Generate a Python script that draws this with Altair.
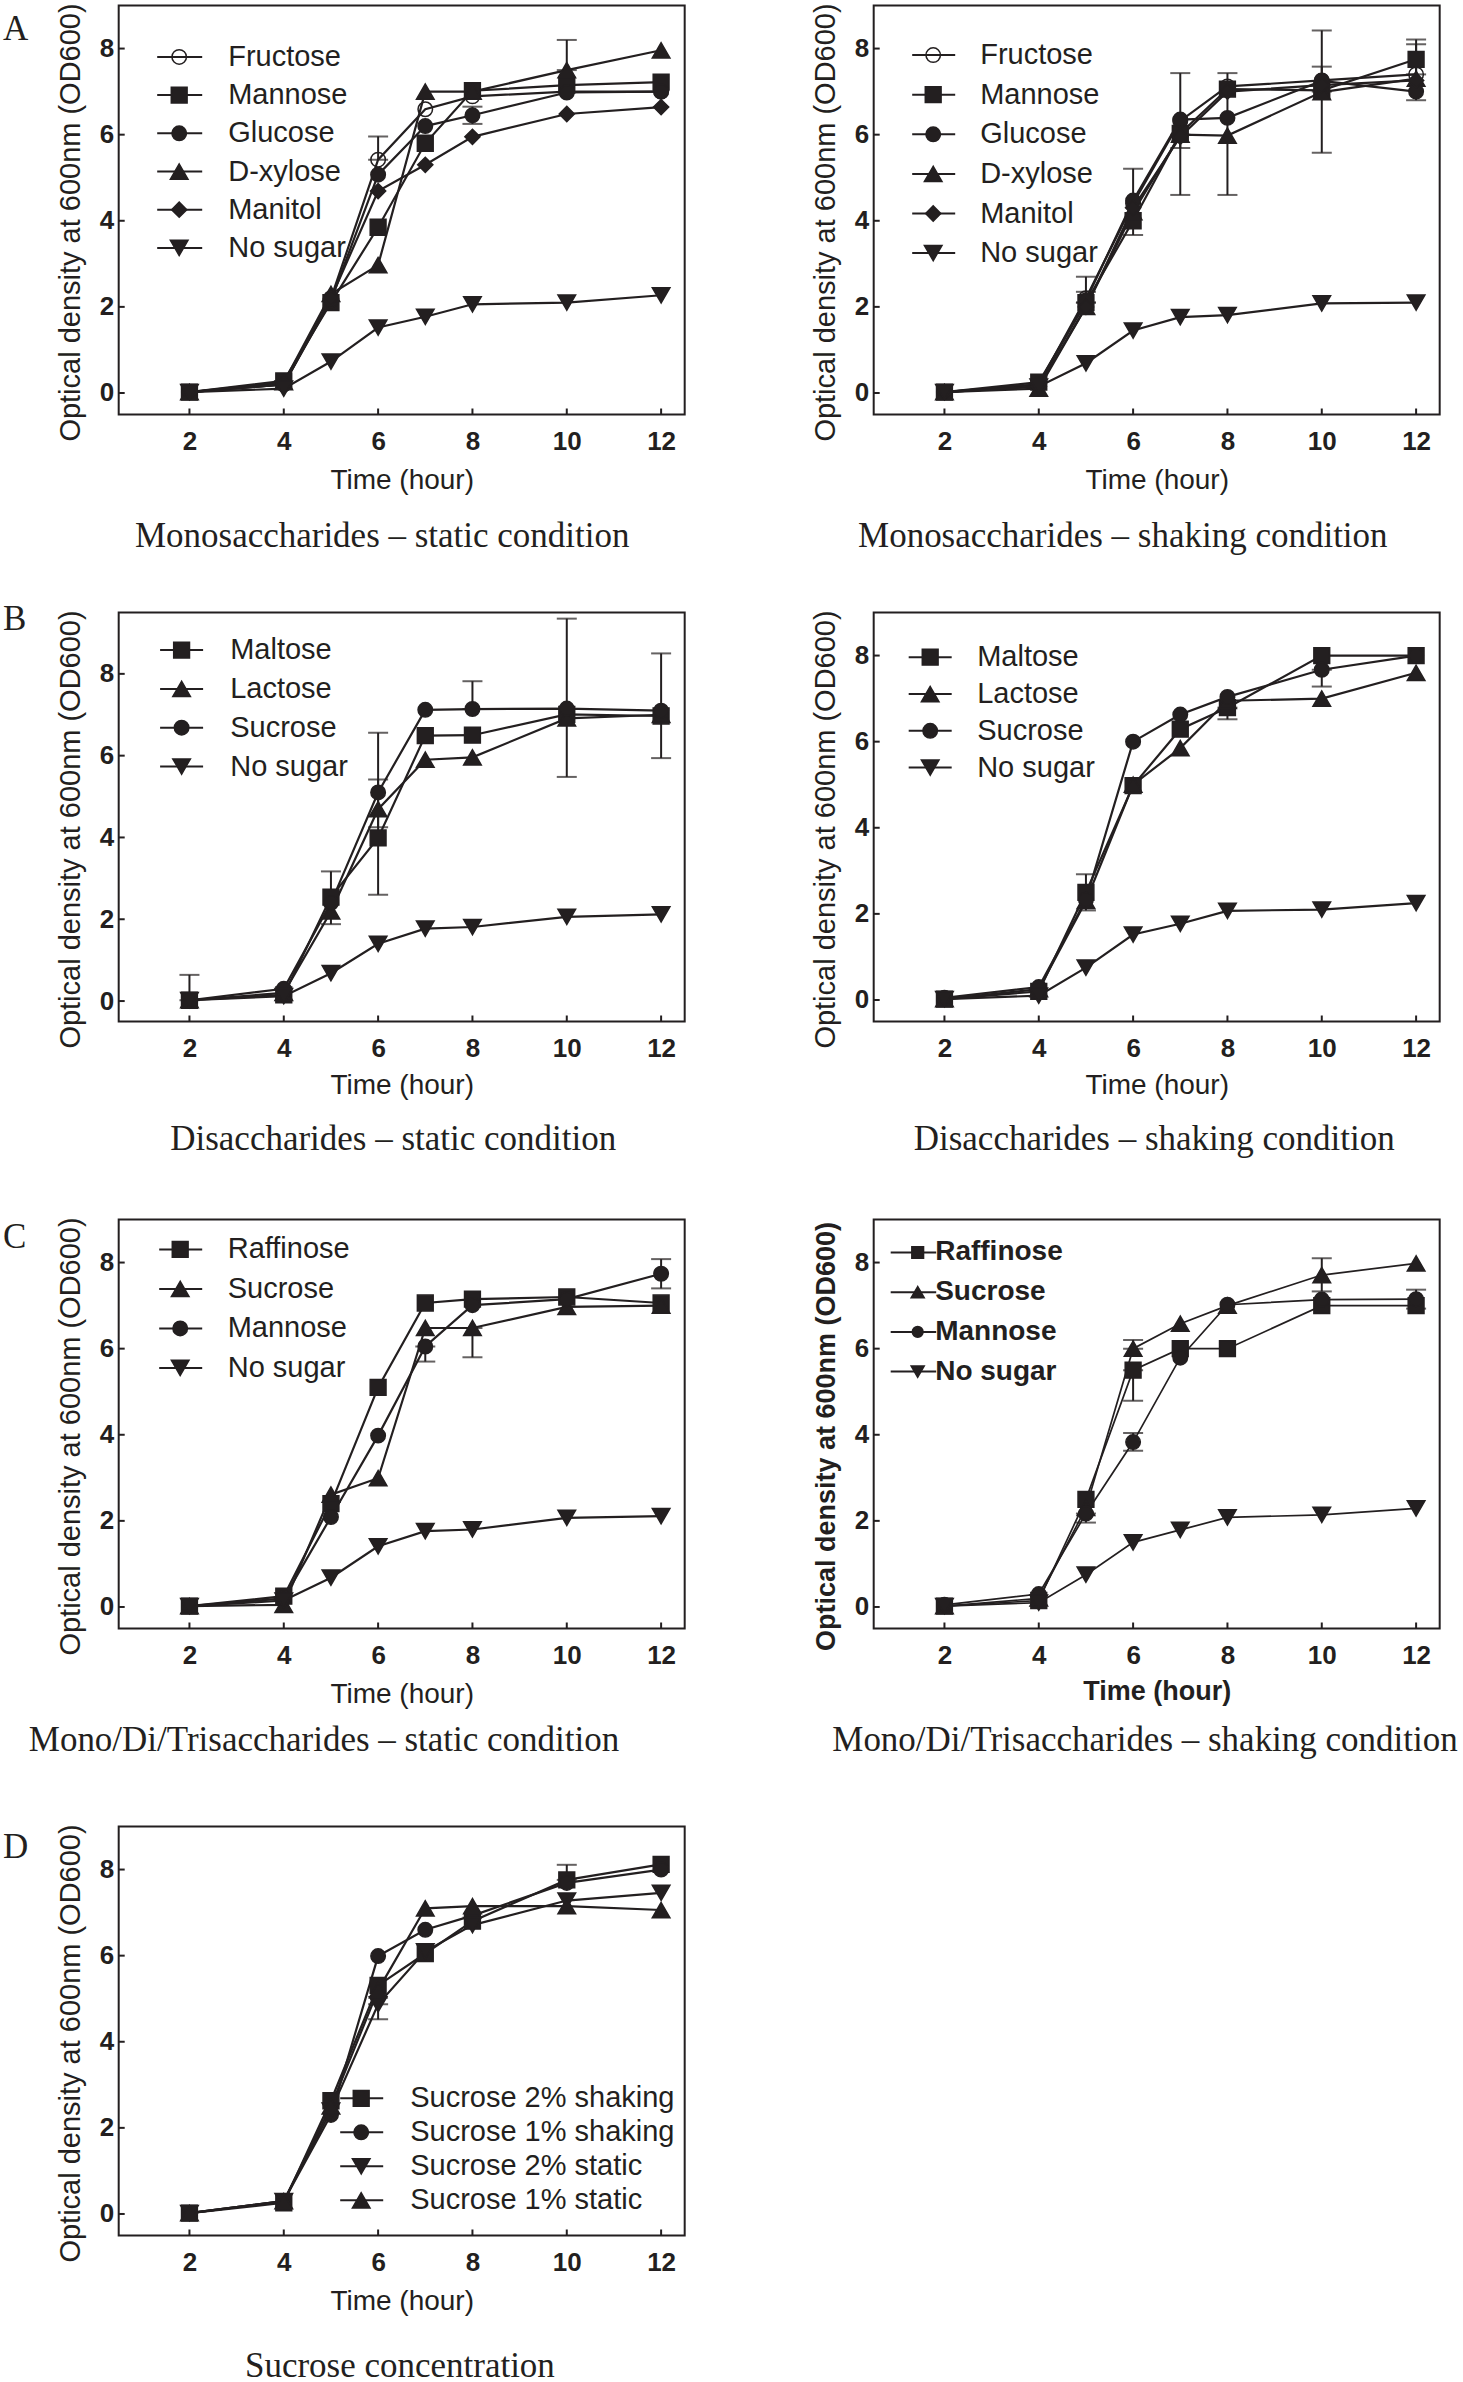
import altair as alt
import pandas as pd

# ---------------- data ----------------
TIME = [2, 4, 5, 6, 7, 8, 10, 12]
X_TICKS = [2, 4, 6, 8, 10, 12]
Y_TICKS = [0, 2, 4, 6, 8]

# A - Monosaccharides, static
MONO_SERIES = ["Fructose", "Mannose", "Glucose", "D-xylose", "Manitol", "No sugar"]
MONO_STATIC_FRUCTOSE = [0.02, 0.20, 2.20, 5.42, 6.59, 6.89, 7.00, 7.00]
MONO_STATIC_MANNOSE = [0.02, 0.28, 2.10, 3.85, 5.80, 7.02, 7.15, 7.22]
MONO_STATIC_GLUCOSE = [0.02, 0.20, 2.15, 5.07, 6.20, 6.45, 6.98, 7.00]
MONO_STATIC_XYLOSE = [0.02, 0.25, 2.30, 2.97, 7.00, 7.00, 7.50, 7.96]
MONO_STATIC_MANITOL = [0.02, 0.20, 2.20, 4.69, 5.30, 5.95, 6.48, 6.64]
MONO_STATIC_NOSUGAR = [0.02, 0.10, 0.73, 1.52, 1.77, 2.06, 2.10, 2.27]
MONO_STATIC_ERR_T = [6, 8, 10]
MONO_STATIC_ERR_LO = [5.42, 6.25, 7.50]
MONO_STATIC_ERR_HI = [5.96, 6.65, 8.20]

# A - Monosaccharides, shaking
MONO_SHAKE_FRUCTOSE = [0.02, 0.20, 2.20, 4.40, 6.32, 7.12, 7.26, 7.40]
MONO_SHAKE_MANNOSE = [0.02, 0.25, 2.10, 4.00, 6.03, 7.06, 7.03, 7.75]
MONO_SHAKE_GLUCOSE = [0.02, 0.20, 2.15, 4.47, 6.35, 6.39, 7.25, 7.00]
MONO_SHAKE_XYLOSE = [0.02, 0.10, 2.00, 4.20, 6.00, 5.98, 6.99, 7.30]
MONO_SHAKE_MANITOL = [0.02, 0.15, 2.00, 4.30, 5.95, 7.00, 7.15, 7.26]
MONO_SHAKE_NOSUGAR = [0.02, 0.15, 0.69, 1.45, 1.76, 1.81, 2.08, 2.10]
MONO_SHAKE_ERR_T = [5, 5, 6, 7, 7, 8, 10, 10, 12, 12]
MONO_SHAKE_ERR_LO = [2.10, 2.10, 3.67, 4.60, 5.69, 4.60, 5.58, 7.00, 6.80, 7.40]
MONO_SHAKE_ERR_HI = [2.70, 2.35, 5.21, 7.43, 6.00, 7.43, 8.42, 7.58, 8.21, 8.10]

# B - Disaccharides, static
DI_SERIES = ["Maltose", "Lactose", "Sucrose", "No sugar"]
DI_STATIC_MALTOSE = [0.02, 0.15, 2.54, 3.99, 6.49, 6.50, 7.01, 6.97]
DI_STATIC_LACTOSE = [0.02, 0.20, 2.19, 4.69, 5.90, 5.96, 6.91, 7.00]
DI_STATIC_SUCROSE = [0.02, 0.30, 2.40, 5.10, 7.12, 7.14, 7.15, 7.10]
DI_STATIC_NOSUGAR = [0.02, 0.12, 0.68, 1.40, 1.77, 1.81, 2.06, 2.12]
DI_STATIC_ERR_T = [2, 5, 6, 6, 8, 10, 12]
DI_STATIC_ERR_LO = [0.02, 1.88, 2.60, 4.25, 7.14, 5.48, 5.94]
DI_STATIC_ERR_HI = [0.64, 3.17, 6.56, 5.42, 7.82, 9.35, 8.50]

# B - Disaccharides, shaking
DI_SHAKE_MALTOSE = [0.02, 0.20, 2.50, 4.98, 6.29, 6.79, 8.00, 8.00]
DI_SHAKE_LACTOSE = [0.02, 0.25, 2.30, 5.00, 5.85, 6.95, 7.00, 7.60]
DI_SHAKE_SUCROSE = [0.05, 0.30, 2.33, 6.00, 6.63, 7.04, 7.67, 8.00]
DI_SHAKE_NOSUGAR = [0.02, 0.10, 0.75, 1.52, 1.77, 2.07, 2.10, 2.25]
DI_SHAKE_ERR_T = [5, 8, 10]
DI_SHAKE_ERR_LO = [2.08, 6.52, 7.28]
DI_SHAKE_ERR_HI = [2.92, 6.79, 7.67]

# C - Mono/Di/Trisaccharides, static
TRI_SERIES = ["Raffinose", "Sucrose", "Mannose", "No sugar"]
TRI_STATIC_RAFFINOSE = [0.02, 0.25, 2.40, 5.10, 7.06, 7.15, 7.20, 7.06]
TRI_STATIC_SUCROSE = [0.02, 0.05, 2.61, 2.99, 6.48, 6.48, 6.97, 7.00]
TRI_STATIC_MANNOSE = [0.02, 0.20, 2.09, 3.98, 6.05, 7.01, 7.15, 7.74]
TRI_STATIC_NOSUGAR = [0.02, 0.15, 0.68, 1.41, 1.76, 1.80, 2.07, 2.11]
TRI_STATIC_ERR_T = [7, 8, 12]
TRI_STATIC_ERR_LO = [5.70, 5.80, 7.40]
TRI_STATIC_ERR_HI = [6.05, 6.48, 8.08]

# C - Mono/Di/Trisaccharides, shaking
TRI_SHAKE_RAFFINOSE = [0.02, 0.15, 2.50, 5.50, 6.00, 6.00, 7.00, 7.00]
TRI_SHAKE_SUCROSE = [0.02, 0.20, 2.30, 6.00, 6.58, 7.00, 7.71, 7.98]
TRI_SHAKE_MANNOSE = [0.05, 0.30, 2.17, 3.83, 5.79, 7.02, 7.14, 7.15]
TRI_SHAKE_NOSUGAR = [0.02, 0.10, 0.75, 1.50, 1.79, 2.08, 2.14, 2.29]
TRI_SHAKE_ERR_T = [5, 6, 6, 6, 10, 12]
TRI_SHAKE_ERR_LO = [1.96, 4.79, 6.00, 3.63, 7.33, 6.93]
TRI_SHAKE_ERR_HI = [2.17, 5.50, 6.20, 4.04, 8.10, 7.37]

# D - Sucrose concentration
SUC_SERIES = ["Sucrose 2% shaking", "Sucrose 1% shaking", "Sucrose 2% static", "Sucrose 1% static"]
SUC_2_SHAKE = [0.02, 0.26, 2.63, 5.31, 6.05, 6.80, 7.76, 8.12]
SUC_1_SHAKE = [0.02, 0.30, 2.30, 5.99, 6.60, 6.93, 7.69, 8.00]
SUC_2_STATIC = [0.02, 0.30, 2.40, 4.87, 6.10, 6.71, 7.28, 7.46]
SUC_1_STATIC = [0.02, 0.30, 2.50, 5.20, 7.10, 7.15, 7.15, 7.06]
SUC_ERR_T = [6, 10]
SUC_ERR_LO = [4.52, 7.76]
SUC_ERR_HI = [4.87, 8.11]

# ---------------- styling ----------------
INK = "#231f20"
SANS = "Liberation Sans, Arial, Helvetica, sans-serif"
SERIF = "Liberation Serif, Times New Roman, Times, serif"
W, H = 566, 409
MARKER_SIZE = {"circle": 210, "square": 250, "triangle-up": 310,
               "triangle-down": 310, "diamond": 230}
YTITLE = "Optical density at 600nm (OD600)"


def build_panel(cfg):
    ymin, ymax = cfg["ydom"]
    bold = cfg.get("bold", False)
    tw = "bold" if bold else "normal"
    xscale = alt.Scale(domain=[0.5, 12.5], nice=False, zero=False)
    yscale = alt.Scale(domain=[ymin, ymax], nice=False, zero=False)
    xaxis = alt.Axis(values=X_TICKS, ticks=False, domain=False, grid=False,
                     labelFont=SANS, labelFontSize=26, labelFontWeight="bold",
                     labelColor=INK, labelPadding=35, labelBaseline="alphabetic",
                     labelFlush=False, labelOverlap=False,
                     title="Time (hour)", titleFont=SANS,
                     titleFontSize=27 if bold else 28, titleFontWeight=tw,
                     titleColor=INK, titleBaseline="alphabetic",
                     titleY=cfg["xt_y"], titleX=W / 2, titleAlign="center")
    yaxis = alt.Axis(values=Y_TICKS, ticks=False, domain=False, grid=False,
                     labelFont=SANS, labelFontSize=26, labelFontWeight="bold",
                     labelColor=INK, labelPadding=5, labelFlush=False,
                     labelOverlap=False,
                     title=YTITLE, titleFont=SANS,
                     titleFontSize=27 if bold else 29, titleFontWeight=tw,
                     titleColor=INK, titleAngle=270, titleAlign="center",
                     titleBaseline="alphabetic", titleX=-39, titleY=H / 2 + 12)

    def X(f):
        return alt.X(f + ":Q", scale=xscale, axis=xaxis)

    def Y(f):
        return alt.Y(f + ":Q", scale=yscale, axis=yaxis)

    rows, leg = [], []
    for k, (name, vals) in enumerate(zip(cfg["series"], cfg["values"])):
        shp = cfg["shapes"][k]
        fill = "transparent" if k in cfg.get("open", []) else INK
        for t, v in zip(TIME, vals):
            rows.append(dict(series=name, t=t, od=v, mshape=shp, mfill=fill,
                             msize=MARKER_SIZE[shp]))
        leg.append(dict(series=name, i=k, mshape=shp, mfill=fill,
                        msize=MARKER_SIZE[shp] * cfg.get("leg_scale", 1.0)))
    df = pd.DataFrame(rows)
    dleg = pd.DataFrame(leg)
    derr = pd.DataFrame({"t": cfg["err"][0], "lo": cfg["err"][1], "hi": cfg["err"][2]})
    one = pd.DataFrame({"k": [0]})
    lw = cfg.get("lw", 2.2)

    layers = []
    # inward tick marks
    layers.append(alt.Chart(pd.DataFrame({"v": X_TICKS})).mark_rule(color=INK, strokeWidth=2)
                  .encode(x=X("v"), y=alt.value(H), y2=alt.value(H - 6)))
    layers.append(alt.Chart(pd.DataFrame({"v": Y_TICKS})).mark_rule(color=INK, strokeWidth=2)
                  .encode(y=Y("v"), x=alt.value(0), x2=alt.value(6)))
    # series lines
    layers.append(alt.Chart(df).mark_line(color=INK, strokeWidth=lw)
                  .encode(x=X("t"), y=Y("od"), detail="series:N"))
    # error bars
    layers.append(alt.Chart(derr).mark_rule(color=INK, strokeWidth=2)
                  .encode(x=X("t"), y=Y("lo"), y2="hi:Q"))
    for f in ("lo", "hi"):
        layers.append(alt.Chart(derr).mark_tick(orient="horizontal", size=20,
                                                thickness=2, color=INK)
                      .encode(x=X("t"), y=Y(f)))
    # markers
    layers.append(alt.Chart(df).mark_point(filled=True, opacity=1, stroke=INK,
                                           strokeWidth=1.5)
                  .encode(x=X("t"), y=Y("od"),
                          shape=alt.Shape("mshape:N", scale=None),
                          fill=alt.Fill("mfill:N", scale=None),
                          size=alt.Size("msize:Q", scale=None)))
    # legend (inside the plot)
    L = cfg["legend"]
    ly = f"{ymax} - ({L['top']} + datum.i * {L['step']}) * {(ymax - ymin) / H}"
    lbase = alt.Chart(dleg).transform_calculate(ly=ly)
    layers.append(lbase.mark_rule(color=INK, strokeWidth=2)
                  .encode(x=alt.value(L["x0"]), x2=alt.value(L["x1"]), y=Y("ly")))
    layers.append(lbase.mark_point(filled=True, opacity=1, stroke=INK, strokeWidth=1.5)
                  .encode(x=alt.value(L["mx"]), y=Y("ly"),
                          shape=alt.Shape("mshape:N", scale=None),
                          fill=alt.Fill("mfill:N", scale=None),
                          size=alt.Size("msize:Q", scale=None)))
    layers.append(lbase.mark_text(font=SANS, fontSize=L["fs"], fontWeight=tw,
                                  align="left", baseline="middle", color=INK)
                  .encode(x=alt.value(L["tx"]), y=Y("ly"), text="series:N"))
    # caption below the panel
    layers.append(alt.Chart(one).mark_text(font=SERIF, fontSize=35, align="center",
                                           baseline="alphabetic", color=INK)
                  .encode(x=alt.value(cfg["cap_x"]), y=alt.value(cfg["cap_y"]),
                          text=alt.value(cfg["caption"])))
    # panel letter
    if cfg.get("letter"):
        layers.append(alt.Chart(one).mark_text(font=SERIF, fontSize=35, align="left",
                                               baseline="alphabetic", color=INK)
                      .encode(x=alt.value(-115.8), y=alt.value(cfg["letter_y"]),
                              text=alt.value(cfg["letter"])))
    return alt.layer(*layers).properties(width=W, height=H)


MONO_SHAPES = ["circle", "square", "circle", "triangle-up", "diamond", "triangle-down"]
DI_SHAPES = ["square", "triangle-up", "circle", "triangle-down"]
TRI_SHAPES = ["square", "triangle-up", "circle", "triangle-down"]
SUC_SHAPES = ["square", "circle", "triangle-down", "triangle-up"]

panels = [
    dict(series=MONO_SERIES, shapes=MONO_SHAPES, open=[0],
         values=[MONO_STATIC_FRUCTOSE, MONO_STATIC_MANNOSE, MONO_STATIC_GLUCOSE,
                 MONO_STATIC_XYLOSE, MONO_STATIC_MANITOL, MONO_STATIC_NOSUGAR],
         err=(MONO_STATIC_ERR_T, MONO_STATIC_ERR_LO, MONO_STATIC_ERR_HI),
         ydom=(-0.5, 9.0), xt_y=74,
         legend=dict(top=51.4, step=38.2, x0=38.5, x1=83.5, mx=60.5, tx=109.5, fs=29),
         caption="Monosaccharides \u2013 static condition", cap_x=263.5, cap_y=541.7,
         letter="A", letter_y=34.3),
    dict(series=MONO_SERIES, shapes=MONO_SHAPES, open=[0],
         values=[MONO_SHAKE_FRUCTOSE, MONO_SHAKE_MANNOSE, MONO_SHAKE_GLUCOSE,
                 MONO_SHAKE_XYLOSE, MONO_SHAKE_MANITOL, MONO_SHAKE_NOSUGAR],
         err=(MONO_SHAKE_ERR_T, MONO_SHAKE_ERR_LO, MONO_SHAKE_ERR_HI),
         ydom=(-0.5, 9.0), xt_y=74,
         legend=dict(top=49.6, step=39.6, x0=38.5, x1=81.5, mx=59.5, tx=106.5, fs=29),
         caption="Monosaccharides \u2013 shaking condition", cap_x=249.1, cap_y=541.7),
    dict(series=DI_SERIES, shapes=DI_SHAPES,
         values=[DI_STATIC_MALTOSE, DI_STATIC_LACTOSE, DI_STATIC_SUCROSE, DI_STATIC_NOSUGAR],
         err=(DI_STATIC_ERR_T, DI_STATIC_ERR_LO, DI_STATIC_ERR_HI),
         ydom=(-0.5, 9.5), xt_y=72,
         legend=dict(top=37.6, step=38.8, x0=41.4, x1=84.4, mx=62.9, tx=111.5, fs=29),
         caption="Disaccharides \u2013 static condition", cap_x=274.5, cap_y=537,
         letter="B", letter_y=17.3),
    dict(series=DI_SERIES, shapes=DI_SHAPES,
         values=[DI_SHAKE_MALTOSE, DI_SHAKE_LACTOSE, DI_SHAKE_SUCROSE, DI_SHAKE_NOSUGAR],
         err=(DI_SHAKE_ERR_T, DI_SHAKE_ERR_LO, DI_SHAKE_ERR_HI),
         ydom=(-0.5, 9.0), xt_y=72,
         legend=dict(top=44.7, step=36.8, x0=35, x1=78, mx=56.5, tx=103.5, fs=29),
         caption="Disaccharides \u2013 shaking condition", cap_x=280.5, cap_y=537),
    dict(series=TRI_SERIES, shapes=TRI_SHAPES,
         values=[TRI_STATIC_RAFFINOSE, TRI_STATIC_SUCROSE, TRI_STATIC_MANNOSE, TRI_STATIC_NOSUGAR],
         err=(TRI_STATIC_ERR_T, TRI_STATIC_ERR_LO, TRI_STATIC_ERR_HI),
         ydom=(-0.5, 9.0), xt_y=74,
         legend=dict(top=29.9, step=39.5, x0=40.5, x1=83.5, mx=61.5, tx=109, fs=29),
         caption="Mono/Di/Trisaccharides \u2013 static condition", cap_x=205.3, cap_y=532,
         letter="C", letter_y=28.3),
    dict(series=TRI_SERIES, shapes=TRI_SHAPES, bold=True, lw=1.7, leg_scale=0.55,
         values=[TRI_SHAKE_RAFFINOSE, TRI_SHAKE_SUCROSE, TRI_SHAKE_MANNOSE, TRI_SHAKE_NOSUGAR],
         err=(TRI_SHAKE_ERR_T, TRI_SHAKE_ERR_LO, TRI_SHAKE_ERR_HI),
         ydom=(-0.5, 9.0), xt_y=71,
         legend=dict(top=33, step=39.7, x0=17, x1=62.5, mx=44, tx=61.5, fs=28),
         caption="Mono/Di/Trisaccharides \u2013 shaking condition", cap_x=271.3, cap_y=532),
    dict(series=SUC_SERIES, shapes=SUC_SHAPES,
         values=[SUC_2_SHAKE, SUC_1_SHAKE, SUC_2_STATIC, SUC_1_STATIC],
         err=(SUC_ERR_T, SUC_ERR_LO, SUC_ERR_HI),
         ydom=(-0.5, 9.0), xt_y=74,
         legend=dict(top=271.8, step=34, x0=221.5, x1=264.5, mx=242.5, tx=291.5, fs=29),
         caption="Sucrose concentration", cap_x=281.2, cap_y=551,
         letter="D", letter_y=31.3),
]

charts = [build_panel(p) for p in panels]

chart = (
    alt.concat(*charts, columns=2, spacing={"row": 198, "column": 189},
               bounds="flush", align="all")
    .properties(padding={"left": 1.7, "top": 1.5, "right": 0, "bottom": 0},
                background="white")
    .configure_view(stroke=INK, strokeWidth=2)
)

chart.save("out.html", embed_options={"renderer": "svg", "actions": False})
